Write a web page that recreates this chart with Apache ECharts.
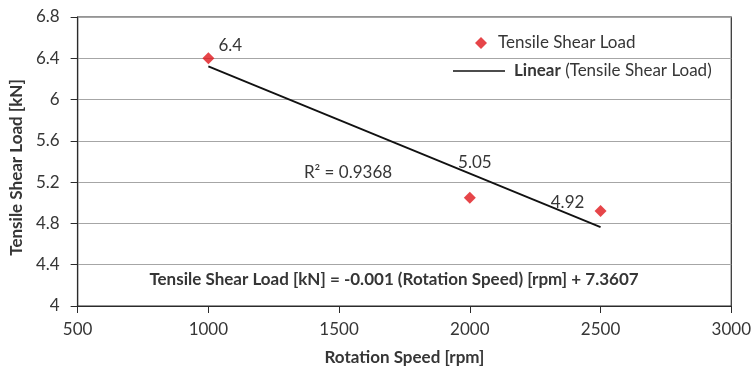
<!DOCTYPE html>
<html>
<head>
<meta charset="utf-8">
<script src="https://cdn.jsdelivr.net/npm/echarts@6/dist/echarts.min.js"></script>
<style>
  html, body { margin: 0; padding: 0; background: #fff; }
  #chart { width: 754px; height: 371px; }
</style>
</head>
<body>
<div id="chart"></div>
<script>
// ---- data ----
const rotationSpeed = [1000, 2000, 2500];
const shearLoad = [6.4, 5.05, 4.92];
const trendX = [1000, 2500];
const trendY = [6.322, 4.764];
const xTickLabels = ['500', '1000', '1500', '2000', '2500', '3000'];
const yTickLabels = ['4', '4.4', '4.8', '5.2', '5.6', '6', '6.4', '6.8'];
const seriesName = 'Tensile Shear Load';
const trendName = 'Linear (Tensile Shear Load)';
const rSquaredText = 'R\u00B2 = 0.9368';
const equationText = 'Tensile Shear Load [kN] = -0.001 (Rotation Speed) [rpm] + 7.3607';
const xTitle = 'Rotation Speed [rpm]';
const yTitle = 'Tensile Shear Load [kN]';

// ---- chart ----
const FONT = 'Lato';
const TXT = '#363636';
const labelOffsets = [[22, 3], [5, -19], [-33, 7]];

const chart = echarts.init(document.getElementById('chart'));
const option = {
  animation: false,
  backgroundColor: '#fff',
  textStyle: { fontFamily: FONT },
  grid: { left: 76, right: 19, top: 17, bottom: 65, show: true, borderColor: '#2b2b2b', borderWidth: 1.2 },
  xAxis: {
    type: 'value', min: 500, max: 3000, interval: 500,
    name: xTitle, nameLocation: 'middle', nameGap: 43,
    nameTextStyle: { fontFamily: FONT, fontSize: 17, fontWeight: 'bold', color: TXT },
    axisLine: { show: true, lineStyle: { color: '#2b2b2b', width: 1.2 } },
    axisTick: { show: true, inside: false, length: 7, lineStyle: { color: '#2b2b2b' } },
    axisLabel: { fontFamily: FONT, fontSize: 17, color: TXT, margin: 15,
      formatter: v => xTickLabels[Math.round((v - 500) / 500)] },
    splitLine: { show: false }
  },
  yAxis: {
    type: 'value', min: 4, max: 6.8, interval: 0.4,
    name: yTitle, nameLocation: 'middle', nameGap: 45, nameRotate: 90,
    nameTextStyle: { fontFamily: FONT, fontSize: 17, fontWeight: 'bold', color: TXT, padding: [0, 12, 0, 0] },
    axisLine: { show: true, lineStyle: { color: '#2b2b2b', width: 1.2 } },
    axisTick: { show: true, inside: false, length: 7, lineStyle: { color: '#2b2b2b' } },
    axisLabel: { fontFamily: FONT, fontSize: 17, color: TXT, margin: 18,
      formatter: v => yTickLabels[Math.round((v - 4) / 0.4)] },
    splitLine: { show: true, lineStyle: { color: '#a6a6a6', width: 1.2 } }
  },
  legend: [
    {
      data: [seriesName], left: 475, top: 33, padding: 0, orient: 'vertical',
      icon: 'diamond', itemWidth: 12, itemHeight: 12,
      textStyle: { fontFamily: FONT, fontSize: 17, color: TXT, lineHeight: 20, padding: [0, 0, 0, 6] }
    },
    {
      data: [trendName], left: 453, top: 61, padding: 0, orient: 'vertical',
      icon: 'rect', itemWidth: 52, itemHeight: 1.6,
      formatter: n => '{b|Linear}' + n.slice(6),
      textStyle: { fontFamily: FONT, fontSize: 17, color: TXT, lineHeight: 20, padding: [0, 0, 0, 4],
        rich: { b: { fontFamily: FONT, fontSize: 17, fontWeight: 'bold', color: TXT, lineHeight: 20 } } }
    }
  ],
  series: [
    {
      name: trendName, type: 'line', symbol: 'none', silent: true,
      color: '#111',
      lineStyle: { color: '#111', width: 1.8 },
      data: trendX.map((x, i) => [x, trendY[i]]),
      z: 2
    },
    {
      name: seriesName, type: 'scatter', symbol: 'diamond', symbolSize: 12,
      itemStyle: { color: '#e0161b' },
      data: rotationSpeed.map((x, i) => ({
        value: [x, shearLoad[i]],
        label: { offset: labelOffsets[i] }
      })),
      label: {
        show: true, position: 'top', distance: 0, fontFamily: FONT, fontSize: 17, lineHeight: 20,
        color: TXT, opacity: 1,
        formatter: p => String(p.value[1])
      },
      z: 3
    }
  ],
  graphic: [
    { type: 'text', x: 348, y: 173, z: 10,
      style: { text: rSquaredText, fontFamily: FONT, fontSize: 17, fill: TXT, align: 'center', verticalAlign: 'middle' } },
    { type: 'text', x: 394, y: 280, z: 10,
      style: { text: equationText, fontFamily: FONT, fontSize: 17, fontWeight: 'bold', fill: TXT, align: 'center', verticalAlign: 'middle' } }
  ]
};
chart.setOption(option);
</script>
</body>
</html>
